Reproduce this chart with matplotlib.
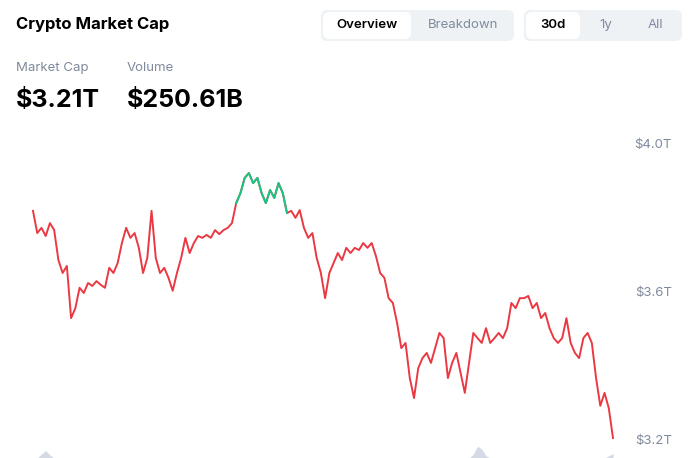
import numpy as np
import matplotlib
matplotlib.use("Agg")
import matplotlib.pyplot as plt
from matplotlib.patches import FancyBboxPatch

# Market cap readings (trillions USD), evenly spaced over 30 days
market_cap = [
    3.822, 3.762, 3.776, 3.754, 3.789, 3.770, 3.689, 3.654, 3.673, 3.532,
    3.559, 3.614, 3.600, 3.627, 3.619, 3.632, 3.622, 3.614, 3.668, 3.654,
    3.681, 3.735, 3.776, 3.749, 3.762, 3.722, 3.654, 3.695, 3.822, 3.695,
    3.654, 3.668, 3.641, 3.606, 3.654, 3.695, 3.749, 3.708, 3.735, 3.754,
    3.749, 3.757, 3.749, 3.770, 3.759, 3.770, 3.776, 3.789, 3.843, 3.870,
    3.911, 3.924, 3.897, 3.911, 3.870, 3.843, 3.878, 3.857, 3.897, 3.870,
    3.816, 3.822, 3.803, 3.824, 3.776, 3.749, 3.762, 3.695, 3.654, 3.586,
    3.654, 3.681, 3.708, 3.689, 3.722, 3.708, 3.722, 3.716, 3.735, 3.722,
    3.735, 3.700, 3.654, 3.641, 3.586, 3.573, 3.519, 3.451, 3.465, 3.370,
    3.316, 3.397, 3.424, 3.438, 3.411, 3.451, 3.492, 3.478, 3.370, 3.411,
    3.438, 3.384, 3.330, 3.411, 3.492, 3.478, 3.465, 3.505, 3.465, 3.478,
    3.492, 3.478, 3.505, 3.573, 3.559, 3.586, 3.586, 3.592, 3.559, 3.573,
    3.532, 3.546, 3.505, 3.478, 3.465, 3.478, 3.532, 3.465, 3.438, 3.424,
    3.478, 3.492, 3.465, 3.370, 3.295, 3.330, 3.289, 3.208,
]
# Volume silhouettes along the bottom (relative heights)
volume = [0.0, 0.0, 0.55, 1.0, 0.4] + [0.0] * 99 + [0.5, 1.6, 1.2, 0.3] + [0.0] * 28 + [0.3, 0.6]
y_ticks = [4.0, 3.6, 3.2]
y_tick_labels = ["$4.0T", "$3.6T", "$3.2T"]

RED = "#ea3943"
GREEN = "#16c784"
GREY = "#808a9d"
DARK = "#000000"

fig = plt.figure(figsize=(6.96, 4.58), dpi=100)
W, H = 696, 458

n = len(market_cap)
x = np.arange(n)
v = np.array(market_cap)

ax = fig.add_axes([0, 0, 1, (H - 130) / H])
span = (n - 1) / (613 - 33)
ax.set_xlim(-33 * span, (W - 33) * span)
ax.set_ylim(3.154, 4.0405)
ax.axis("off")

# red below the opening value, green above it
base = v[0]
ax.plot(x, v, color=RED, lw=1.4, solid_joinstyle="round")
mask = v > base + 0.01
mask = mask | np.roll(mask, 1) | np.roll(mask, -1)
ax.plot(x, np.where(mask & (v > base - 0.03), v, np.nan), color=GREEN, lw=1.4)

vol = np.array(volume) * 0.02 + 3.154
ax.fill_between(x, 3.154, vol, color="#d5d9e3", lw=0)

for t, lab in zip(y_ticks, y_tick_labels):
    ax.text(672 / W, t, lab, transform=ax.get_yaxis_transform(),
            ha="right", va="center", color=GREY, fontsize=9.5, family="Inter")

# header
fig.text(16 / W, 1 - 25 / H, "Crypto Market Cap", fontsize=12, weight="bold",
         color=DARK, va="center", family="Inter")
fig.text(16 / W, 1 - 68 / H, "Market Cap", fontsize=9.5, color=GREY, va="center", family="Inter")
fig.text(127 / W, 1 - 68 / H, "Volume", fontsize=9.5, color=GREY, va="center", family="Inter")
fig.text(16 / W, 1 - 100 / H, "$3.21T", fontsize=18, weight="bold", color=DARK,
         va="center", family="Inter")
fig.text(127 / W, 1 - 100 / H, "$250.61B", fontsize=18, weight="bold", color=DARK,
         va="center", family="Inter")


def pill(x0, y0, x1, y1, color):
    p = FancyBboxPatch((x0 / W, 1 - y1 / H), (x1 - x0) / W, (y1 - y0) / H,
                       boxstyle="round,pad=0,rounding_size=0.009",
                       transform=fig.transFigure, facecolor=color, edgecolor="none",
                       mutation_aspect=W / H)
    fig.patches.append(p)


pill(321, 10, 514, 41, "#eff2f5")
pill(323, 12, 411, 39, "white")
pill(524, 10, 682, 41, "#eff2f5")
pill(526, 12, 580, 39, "white")
for bx, lab, col in [(367, "Overview", DARK), (463, "Breakdown", GREY),
                     (553, "30d", DARK), (606, "1y", GREY), (655, "All", GREY)]:
    fig.text(bx / W, 1 - 25 / H, lab, fontsize=9.5, color=col, ha="center", va="center",
             weight="semibold" if col == DARK else "normal", family="Inter")

fig.savefig("out.png", dpi=100)
